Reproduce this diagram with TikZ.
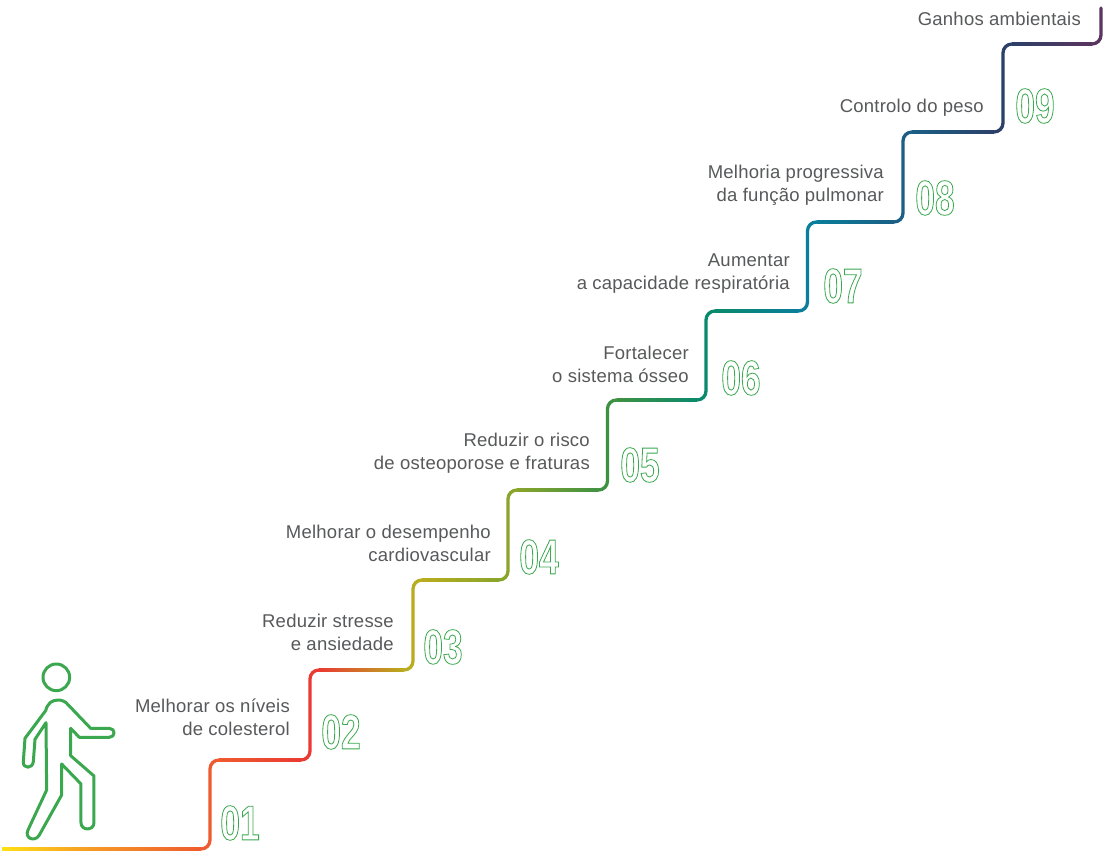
\documentclass[tikz,border=0pt]{standalone}
\usepackage{fontspec}
\setmainfont[LetterSpace=1.3]{Liberation Sans}
\newfontfamily\numfont[FakeStretch=0.72]{Liberation Sans Bold}
\definecolor{txt}{HTML}{58595B}
\definecolor{grn}{HTML}{3BA84F}
\definecolor{c0}{HTML}{FFE014}
\definecolor{cm}{HTML}{F59A25}
\definecolor{c1}{HTML}{EE5B2E}
\definecolor{c2}{HTML}{EA3A33}
\definecolor{c3}{HTML}{B8AD1E}
\definecolor{c4}{HTML}{8AA52B}
\definecolor{c5}{HTML}{3F9142}
\definecolor{c6}{HTML}{0A8A6C}
\definecolor{c7}{HTML}{0A7E9A}
\definecolor{c8}{HTML}{1B5F86}
\definecolor{c9}{HTML}{2C4068}
\definecolor{c10}{HTML}{5A3560}
\newcommand{\outlinedigits}[1]{\special{pdf:code 1 Tr 0.8 w 0.231 0.659 0.31 RG}{\numfont #1}\special{pdf:code 0 Tr}}
\tikzset{
  label/.style={font=\fontsize{18.5}{23}\selectfont,text=txt,align=right,anchor=east,inner sep=0pt},
  stepnum/.style={font=\fontsize{49}{49}\selectfont,inner sep=0pt,anchor=center},
  rail/.style={line width=3.3pt,rounded corners=9pt},
  walker/.style={draw=grn,line width=3pt,line join=round,line cap=round}
}
\begin{document}
\begin{tikzpicture}[x=1pt,y=-1pt]
\useasboundingbox (0,0) rectangle (1114,858);
\fill[white] (0,0) rectangle (1114,858);
% first flat run
\shade[left color=c0,right color=cm] (2,847.35) rectangle (90,850.65);
\shade[left color=cm,right color=c1] (89.8,847.35) rectangle (201.2,850.65);
% stairs: x, y bottom, y top, next x, colour, next colour
\foreach \xa/\ya/\yb/\xb/\ca/\cb in {
  210/849/760/310/c1/c2,
  310/760/670/413/c2/c3,
  413/670/580/508/c3/c4,
  508/580/490/607.5/c4/c5,
  607.5/490/400/706/c5/c6,
  706/400/311/807.5/c6/c7,
  807.5/311/222/903/c7/c8,
  903/222/132/1003/c8/c9,
  1003/132/44/1101/c9/c10}{
  \draw[rail,draw=\ca] (\xa-9,\ya) -- (\xa,\ya) -- (\xa,\yb) -- (\xa+9,\yb);
  \shade[left color=\ca,right color=\cb] (\xa+8.8,\yb-1.65) rectangle (\xb-8.8,\yb+1.65);
}
\draw[rail,draw=c10,line cap=round] (1092,44) -- (1101,44) -- (1101,8);
% labels
\node[label] (t9) at (1081,19) {Ganhos ambientais};
\node[label] (t8) at (984,107.5) {Controlo do peso};
\node[label] (t7) at (884,185.5) {Melhoria progressiva\\da função pulmonar};
\node[label] (t6) at (790,273.5) {Aumentar\\a capacidade respiratória};
\node[label] (t5) at (689,364) {Fortalecer\\o sistema ósseo};
\node[label] (t4) at (590,453) {Reduzir o risco\\de osteoporose e fraturas};
\node[label] (t3) at (491,543) {Melhorar o desempenho\\cardiovascular};
\node[label] (t2) at (394,632.5) {Reduzir stresse\\e ansiedade};
\node[label] (t1) at (290,717.5) {Melhorar os níveis\\de colesterol};
% numbers
\node[stepnum] (n1) at (240,823) {\outlinedigits{01}};
\node[stepnum] (n2) at (341,732) {\outlinedigits{02}};
\node[stepnum] (n3) at (443,647) {\outlinedigits{03}};
\node[stepnum] (n4) at (539,557) {\outlinedigits{04}};
\node[stepnum] (n5) at (640,465) {\outlinedigits{05}};
\node[stepnum] (n6) at (741,378) {\outlinedigits{06}};
\node[stepnum] (n7) at (843,286) {\outlinedigits{07}};
\node[stepnum] (n8) at (935,198) {\outlinedigits{08}};
\node[stepnum] (n9) at (1035,106) {\outlinedigits{09}};
% walker
\begin{scope}[shift={(0,650)},x=0.3333pt,y=-0.3333pt]
\draw[walker] (169,82) circle[radius=40];
\draw[walker]
  (175,150) .. controls (155,150) and (143,160) .. (137,182)
  -- (75,265) -- (70,335)
  .. controls (68,357) and (98,357) .. (100,335)
  -- (105,268) -- (138,218) -- (140,420) -- (84,540)
  .. controls (72,565) and (105,578) .. (118,555)
  -- (185,435) -- (185,342) -- (243,402) -- (243,518)
  .. controls (243,543) and (282,543) .. (282,518)
  -- (282,378) -- (212,317) -- (212,235) -- (238,262) -- (328,262)
  .. controls (347,262) and (347,235) .. (328,235)
  -- (272,235) -- (205,165)
  .. controls (197,155) and (187,150) .. (175,150) -- cycle;
\end{scope}
\end{tikzpicture}
\end{document}
